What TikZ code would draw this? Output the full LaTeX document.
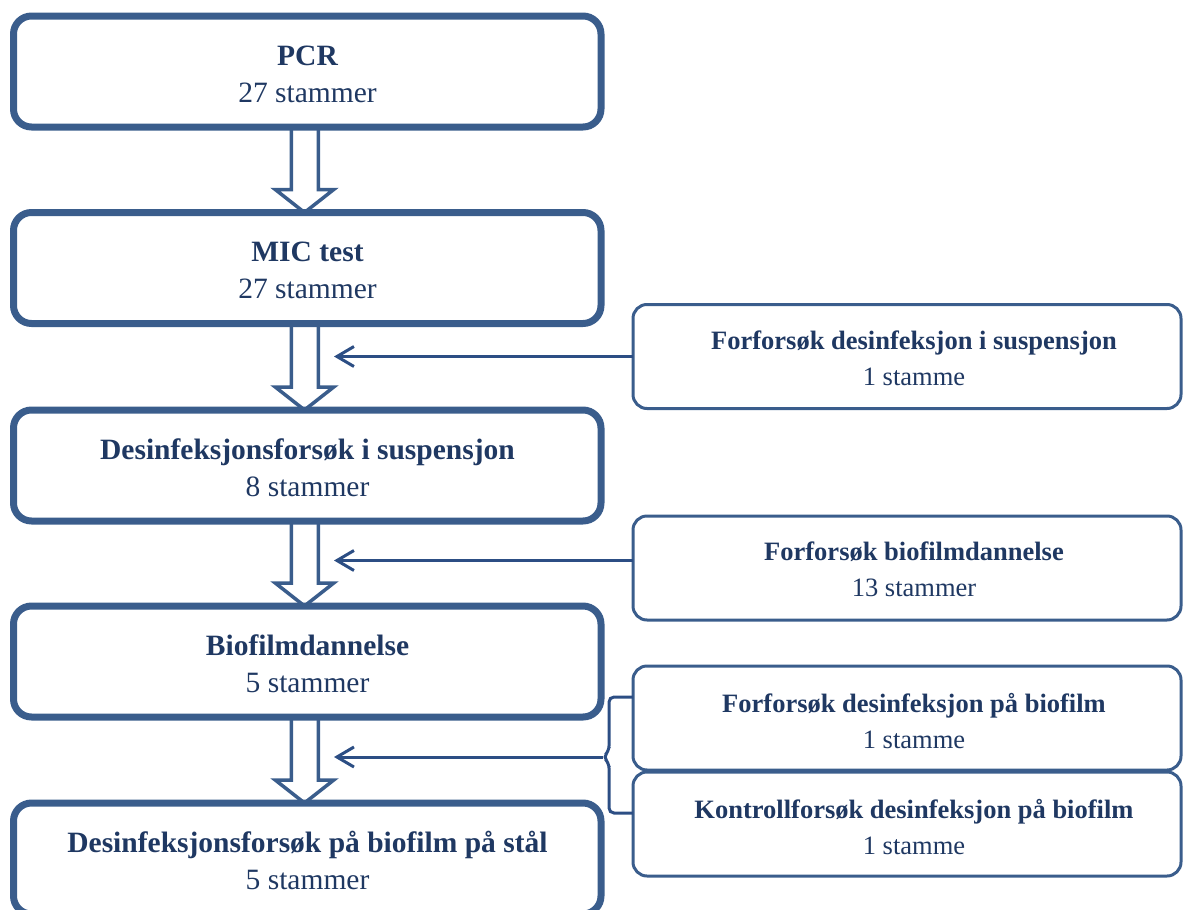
\documentclass[tikz,border=0pt]{standalone}
\usepackage{fontspec}
\setmainfont{Liberation Serif}
\usetikzlibrary{arrows.meta,calc}
\definecolor{bord}{RGB}{58,93,140}
\definecolor{txt}{RGB}{31,56,98}
\definecolor{arr}{RGB}{44,78,132}
\begin{document}
\begin{tikzpicture}[x=1pt,y=-1pt,
  mainbox/.style={draw=bord,line width=7pt,rounded corners=18pt,inner sep=0pt,outer sep=0pt,minimum width=587.5pt},
  sidebox/.style={draw=bord,line width=3pt,rounded corners=14pt,inner sep=0pt,outer sep=0pt,minimum width=548pt,minimum height=104pt},
  mtitle/.style={font=\fontsize{29.5}{34}\selectfont\bfseries,text=txt,anchor=base,inner sep=0pt},
  mcount/.style={font=\fontsize{29.5}{34}\selectfont,text=txt,anchor=base,inner sep=0pt},
  stitle/.style={font=\fontsize{26.5}{31}\selectfont\bfseries,text=txt,anchor=base,inner sep=0pt},
  scount/.style={font=\fontsize{26.5}{31}\selectfont,text=txt,anchor=base,inner sep=0pt},
  barrow/.style={draw=bord,line width=3.5pt,line join=miter},
  thinarr/.style={draw=arr,line width=3pt,-{Straight Barb[length=17pt,width=20pt,line width=3pt]}},
  bracestyle/.style={draw=arr,line width=3pt,rounded corners=5pt}]
\useasboundingbox (0,0) rectangle (1184,910);
\clip (0,0) rectangle (1184,910);

% main boxes
\node[mainbox,minimum height=111pt] (b1) at (307.25,71.5) {};
\node[mainbox,minimum height=111pt] (b2) at (307.25,268) {};
\node[mainbox,minimum height=111pt] (b3) at (307.25,465.5) {};
\node[mainbox,minimum height=111pt] (b4) at (307.25,661.5) {};
\node[mainbox,minimum height=111pt] (b5) at (307.25,858.5) {};

\node[mtitle] (t1) at (307.5,65) {PCR};
\node[mcount] (c1) at (307.5,102) {27 stammer};
\node[mtitle] (t2) at (307.5,261.5) {MIC test};
\node[mcount] (c2) at (307.5,298.5) {27 stammer};
\node[mtitle] (t3) at (307.5,459) {Desinfeksjonsforsøk i suspensjon};
\node[mcount] (c3) at (307.5,496) {8 stammer};
\node[mtitle] (t4) at (307.5,655) {Biofilmdannelse};
\node[mcount] (c4) at (307.5,692) {5 stammer};
\node[mtitle] (t5) at (307.5,852) {Desinfeksjonsforsøk på biofilm på stål};
\node[mcount] (c5) at (307.5,889) {5 stammer};

% side boxes
\node[sidebox] (r1) at (907,356.5) {};
\node[sidebox] (r2) at (907,568) {};
\node[sidebox] (r3) at (907,718) {};
\node[sidebox] (r4) at (907,824) {};

\node[stitle] (rt1) at (914,349) {Forforsøk desinfeksjon i suspensjon};
\node[scount] (rc1) at (914,385) {1 stamme};
\node[stitle] (rt2) at (914,560) {Forforsøk biofilmdannelse};
\node[scount] (rc2) at (914,596) {13 stammer};
\node[stitle] (rt3) at (914,712) {Forforsøk desinfeksjon på biofilm};
\node[scount] (rc3) at (914,748) {1 stamme};
\node[stitle] (rt4) at (914,818) {Kontrollforsøk desinfeksjon på biofilm};
\node[scount] (rc4) at (914,854) {1 stamme};

% block arrows
\foreach \a/\b in {b1/b2,b2/b3,b3/b4,b4/b5}{
  \draw[barrow] ($(\a.south)+(-16,0)$) -- ($(\b.north)+(-16,-23)$) -- ($(\b.north)+(-32,-23)$)
     -- ($(\b.north)+(-2.75,0)$) -- ($(\b.north)+(26.5,-23)$) -- ($(\b.north)+(11,-23)$)
     -- ($(\a.south)+(11,0)$);
}

% thin arrows
\coordinate (tipx) at (334,0);
\draw[thinarr] (r1.west) -- (r1.west -| tipx);
\draw[thinarr] ([yshift=7.5pt]r2.west) -- ([yshift=7.5pt]r2.west -| tipx);

% brace
\coordinate (bk) at (603,757);
\draw[bracestyle] (r3.west |- 0,697) -| (609,751) -- (bk) -- (609,763) |- (r4.west |- 0,813);
\draw[thinarr] (bk) -- (bk -| tipx);
\end{tikzpicture}
\end{document}
